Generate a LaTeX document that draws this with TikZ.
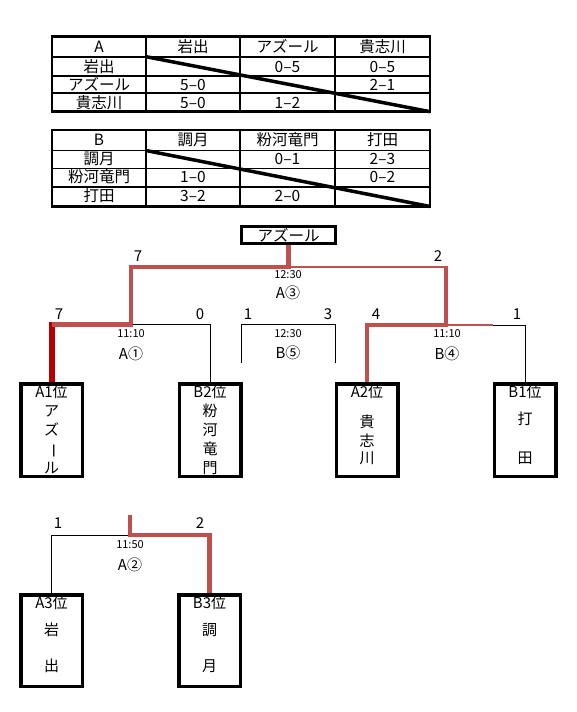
\documentclass[tikz,border=0pt]{standalone}
\usepackage{fontspec}
\setmainfont{Noto Sans CJK JP}
\usetikzlibrary{positioning}
\definecolor{WinRed}{HTML}{C0504D}
\definecolor{TopRed}{HTML}{B40000}

\begin{document}
\begin{tikzpicture}[
  x=1pt, y=-1pt,
  frame/.style={line width=2.6pt},
  rule/.style={line width=1.8pt},
  slash/.style={line width=3.5pt},
  cell/.style={font=\fontsize{15.5}{17}\selectfont, inner sep=0pt},
  team/.style={draw, line width=3.5pt, minimum width=61.5pt, minimum height=92.5pt, inner sep=0pt},
  tag/.style={font=\fontsize{15}{19}\selectfont, align=center, inner sep=0pt, anchor=north, yshift=-2.5pt},
  champ/.style={draw, line width=3pt, minimum width=94pt, minimum height=17pt, inner sep=0pt, font=\fontsize{15.5}{17}\selectfont},
  score/.style={font=\fontsize{15}{17}\selectfont, inner sep=0pt},
  slot/.style={font=\fontsize{11}{13}\selectfont, inner sep=0pt},
  game/.style={font=\fontsize{15}{17}\selectfont, inner sep=0pt},
  lose/.style={line width=1pt},
  win/.style={WinRed, line width=4.5pt},
  winthin/.style={WinRed, line width=2pt},
  topwin/.style={TopRed, line width=6pt}
]
\fill[white] (0,0) rectangle (576,712);

% league A
\draw[rule] (52,56.7) -- (430,56.7) (52,76) -- (430,76) (52,93.3) -- (430,93.3);
\draw[rule] (146,36.7) -- (146,111.7) (240,36.7) -- (240,111.7) (335,36.7) -- (335,111.7);
\draw[frame] (52,36.7) rectangle (430,111.7);
\draw[slash] (146,56.7) -- (430,111.7);
\node[cell] (ta00) at (99,46.5) {A};
\node[cell] (ta01) at (193,46.5) {岩出};
\node[cell] (ta02) at (287.5,46.5) {アズール};
\node[cell] (ta03) at (382.5,46.5) {貴志川};
\node[cell] (ta10) at (99,66.5) {岩出};
\node[cell] (ta12) at (287.5,66.5) {0–5};
\node[cell] (ta13) at (382.5,66.5) {0–5};
\node[cell] (ta20) at (99,84.5) {アズール};
\node[cell] (ta21) at (193,84.5) {5–0};
\node[cell] (ta23) at (382.5,84.5) {2–1};
\node[cell] (ta30) at (99,102.5) {貴志川};
\node[cell] (ta31) at (193,102.5) {5–0};
\node[cell] (ta32) at (287.5,102.5) {1–2};

% league B
\draw[rule] (52,150.5) -- (430,150.5) (52,168.5) -- (430,168.5) (52,187) -- (430,187);
\draw[rule] (146,130) -- (146,206.5) (240,130) -- (240,206.5) (335,130) -- (335,206.5);
\draw[frame] (52,130) rectangle (430,206.5);
\draw[slash] (146,150.5) -- (430,206.5);
\node[cell] (tb00) at (99,140) {B};
\node[cell] (tb01) at (193,140) {調月};
\node[cell] (tb02) at (287.5,140) {粉河竜門};
\node[cell] (tb03) at (382.5,140) {打田};
\node[cell] (tb10) at (99,158.5) {調月};
\node[cell] (tb12) at (287.5,158.5) {0–1};
\node[cell] (tb13) at (382.5,158.5) {2–3};
\node[cell] (tb20) at (99,177) {粉河竜門};
\node[cell] (tb21) at (193,177) {1–0};
\node[cell] (tb23) at (382.5,177) {0–2};
\node[cell] (tb30) at (99,196) {打田};
\node[cell] (tb31) at (193,196) {3–2};
\node[cell] (tb32) at (287.5,196) {2–0};

% tournament
\node[champ] (champ) at (288.5,235) {アズール};
\node[team] (a1) at (51.5,430) {};
\node[team] (b2) at (210,430) {};
\node[team] (a2) at (367,430) {};
\node[team] (b1) at (525,430) {};
\node[tag] (a1t) at (a1.north) {A1位\\ア\\ズ\\\rotatebox[origin=c]{-90}{ー}\\ル};
\node[tag] (b2t) at (b2.north) {B2位\\粉\\河\\竜\\門};
\node[tag] (a2t) at (a2.north) {A2位\\[11pt]貴\\志\\[-2pt]川};
\node[tag] (b1t) at (b1.north) {B1位\\[8pt]打\\[20pt]田};

\coordinate (jA3) at (288.5,267);
\coordinate (jA1) at (131,324.5);
\coordinate (jB4) at (446,325);
\coordinate (kB4) at (493,325);
\coordinate (b5l) at (241,363);
\coordinate (b5r) at (335,363);

\draw[lose] (jA1) -- (b2.north |- jA1) -- (b2.north);
\draw[lose] (kB4) -- (b1.north |- kB4) -- (b1.north);
\draw[lose] (b5l) -- ++(0,-39) -| (b5r);
\draw[winthin] (jA3) -- (jA3 -| jB4);
\draw[winthin] (jB4) -- (kB4);
\draw[topwin] (a1.north) -- ++(0,-60.5);
\draw[win] (a1.north |- jA1) -- (jA1) |- (jA3) -- (champ.south);
\draw[win] ([yshift=1pt]jA3 -| jB4) -- (jB4) -- (a2.north |- jB4) -- (a2.north);

\node[score] (s7top) at (138,256) {7};
\node[score] (s2top) at (438,256) {2};
\node[score] (s7a1) at (59,314) {7};
\node[score] (s0b2) at (200,314) {0};
\node[score] (s1b5) at (248,314) {1};
\node[score] (s3b5) at (328,314) {3};
\node[score] (s4a2) at (376,314) {4};
\node[score] (s1b1) at (517,314) {1};

\node[slot] (tA3) at (288,275) {12:30};
\node[game] (gA3) at (288,293) {A③};
\node[slot] (tA1) at (131,334) {11:10};
\node[game] (gA1) at (131,354) {A①};
\node[slot] (tB5) at (288,334) {12:30};
\node[game] (gB5) at (288,353) {B⑤};
\node[slot] (tB4) at (447,334) {11:10};
\node[game] (gB4) at (447,354) {B④};

% third place
\node[team, minimum height=91.5pt] (a3) at (51.5,640.5) {};
\node[team, minimum height=91.5pt] (b3) at (209.5,640.5) {};
\node[tag] (a3t) at (a3.north) {A3位\\[8pt]岩\\[17pt]出};
\node[tag] (b3t) at (b3.north) {B3位\\[8pt]調\\[17pt]月};

\coordinate (jA2) at (130,535);
\coordinate (tA2top) at (130,515);
\draw[lose] (a3.north) |- (jA2);
\draw[win] (tA2top) -- (jA2) -| (b3.north);

\node[score] (s1a3) at (58,523) {1};
\node[score] (s2b3) at (200,523) {2};
\node[slot] (tA2) at (130,545) {11:50};
\node[game] (gA2) at (130,565) {A②};
\end{tikzpicture}
\end{document}
